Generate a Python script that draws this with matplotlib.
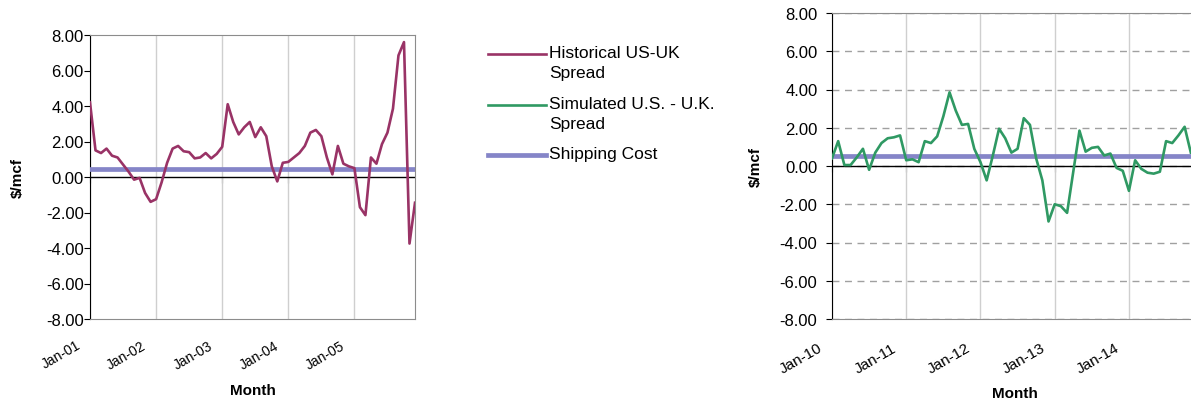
import numpy as np
import matplotlib
matplotlib.use('Agg')
import matplotlib.pyplot as plt
import matplotlib.transforms as mtransforms
from matplotlib.lines import Line2D

plt.rcParams['font.family'] = ['Liberation Sans', 'DejaVu Sans']
plt.rcParams['axes.unicode_minus'] = False

# monthly spreads, $/mcf
hist_spread = [4.2, 1.5, 1.35, 1.6, 1.2, 1.1, 0.7, 0.3, -0.15, -0.05, -0.9, -1.4,
               -1.25, -0.3, 0.8, 1.6, 1.75, 1.45, 1.4, 1.05, 1.1, 1.35, 1.05, 1.3,
               1.7, 4.1, 3.1, 2.4, 2.8, 3.1, 2.25, 2.8, 2.3, 0.6, -0.25, 0.8,
               0.85, 1.1, 1.35, 1.75, 2.5, 2.65, 2.3, 1.1, 0.15, 1.75, 0.75, 0.6,
               0.5, -1.7, -2.15, 1.1, 0.75, 1.85, 2.5, 3.85, 6.85, 7.6, -3.75, -1.45]
sim_spread = [0.4, 1.3, 0.05, 0.05, 0.45, 0.9, -0.2, 0.7, 1.2, 1.45, 1.5, 1.6,
              0.3, 0.35, 0.2, 1.3, 1.2, 1.55, 2.6, 3.85, 2.9, 2.15, 2.2, 0.9,
              0.2, -0.75, 0.55, 1.95, 1.45, 0.7, 0.9, 2.5, 2.15, 0.4, -0.75, -2.9,
              -2.0, -2.1, -2.45, -0.3, 1.85, 0.75, 0.95, 1.0, 0.55, 0.65, -0.1, -0.25,
              -1.3, 0.3, -0.15, -0.35, -0.4, -0.3, 1.3, 1.2, 1.6, 2.05, 0.7]
shipping_hist = 0.45
shipping_sim = 0.5

hist_years = ['Jan-01', 'Jan-02', 'Jan-03', 'Jan-04', 'Jan-05']
sim_years = ['Jan-10', 'Jan-11', 'Jan-12', 'Jan-13', 'Jan-14']
n_months = 60
y_ticks = np.arange(-8, 9, 2)

hist_color = '#993366'
sim_color = '#2f9963'
ship_color = '#8585c8'

W, H = 1191, 402
fig = plt.figure(figsize=(W / 100, H / 100), dpi=100)


def px_axes(l, t, r, b):
    return fig.add_axes([l / W, 1 - b / H, (r - l) / W, (b - t) / H])


def style(ax, labels, xfs, xpad, ypad, dashed):
    ax.set_xlim(0, n_months - 1)
    ax.set_ylim(-8, 8)
    ax.set_yticks(y_ticks)
    ax.set_yticklabels([f'{v:.2f}' for v in y_ticks], fontsize=12)
    ax.tick_params(axis='y', length=4, direction='out', pad=ypad, color='black')
    ticks = np.arange(0, n_months, 12)
    ax.set_xticks(ticks)
    ax.set_xticklabels(labels, rotation=30, ha='right', fontsize=xfs)
    ax.tick_params(axis='x', length=0, pad=xpad)
    off = mtransforms.ScaledTranslation(-0.075, 0, fig.dpi_scale_trans)
    for lab in ax.get_xticklabels():
        lab.set_transform(lab.get_transform() + off)
    ax.grid(axis='x', color='#cfcfcf', lw=1)
    if dashed:
        ax.grid(axis='y', color='#a0a0a0', lw=1, ls=(0, (5, 4)))
    for s in ['top', 'right', 'bottom']:
        ax.spines[s].set_color('#8c8c8c')
    ax.spines['left'].set_color('black')
    ax.set_axisbelow(True)
    # category axis crossing at zero
    ax.axhline(0, color='black', lw=1, zorder=2)
    sec = ax.secondary_xaxis(0.5)
    sec.set_alignment('bottom')
    sec.set_xticks(ticks, labels=[])
    sec.tick_params(length=4, direction='out', color='#333333')
    sec.spines['bottom'].set_visible(False)
    ax.set_xlabel('Month', fontsize=11, fontweight='bold')
    ax.set_ylabel('$/mcf', fontsize=11, fontweight='bold')


ax1 = px_axes(90, 36, 415, 320)
ax1.axhline(shipping_hist, color=ship_color, lw=3.4, zorder=3)
ax1.plot(np.arange(len(hist_spread)), hist_spread, color=hist_color, lw=1.9, zorder=4)
style(ax1, hist_years, 10, 13.5, 0.5, False)
ax1.xaxis.set_label_coords(0.5, -0.225)
ax1.yaxis.set_label_coords(-0.2, 0.5)

ax2 = px_axes(832, 14, 1197, 320)
ax2.axhline(shipping_sim, color=ship_color, lw=3.4, zorder=3)
ax2.plot(np.arange(len(sim_spread)), sim_spread, color=sim_color, lw=1.9, zorder=4)
style(ax2, sim_years, 11, 15.5, 6.5, True)
ax2.xaxis.set_label_coords(0.5, -0.22)
ax2.yaxis.set_label_coords(-0.19, 0.5)

# legend
entries = [('Historical US-UK\nSpread', hist_color, 1.9, 55),
           ('Simulated U.S. - U.K.\nSpread', sim_color, 1.9, 106),
           ('Shipping Cost', ship_color, 3.4, 156)]
for label, color, lw, y in entries:
    fig.add_artist(Line2D([488 / W, 546 / W], [1 - y / H, 1 - y / H],
                          color=color, lw=lw, transform=fig.transFigure))
    fig.text(549 / W, 1 - (y - 9) / H, label, fontsize=12.5, va='top', ha='left',
             linespacing=1.45)

fig.savefig('out.png', dpi=100)
